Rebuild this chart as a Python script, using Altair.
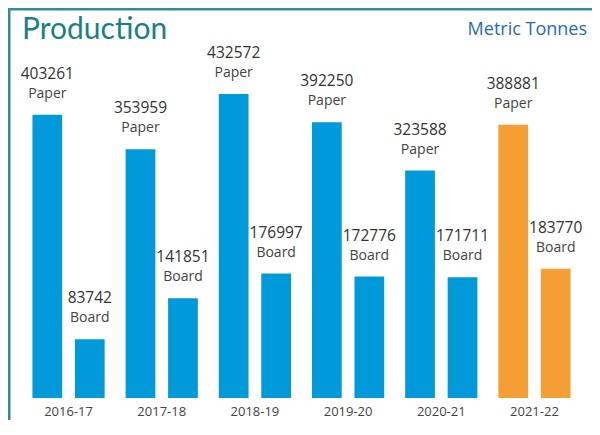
import altair as alt
import pandas as pd

years = ["2016-17", "2017-18", "2018-19", "2019-20", "2020-21", "2021-22"]
paper = [403261, 353959, 432572, 392250, 323588, 388881]
board = [83742, 141851, 176997, 172776, 171711, 183770]
types = ["Paper", "Board"]
highlight_year = "2021-22"

rows = []
for yr, p, b in zip(years, paper, board):
    grp = "Latest" if yr == highlight_year else "Earlier"
    rows.append({"year": yr, "type": "Paper", "value": p, "group": grp})
    rows.append({"year": yr, "type": "Board", "value": b, "group": grp})
df = pd.DataFrame(rows)

FONT = "Open Sans"

x = alt.X("year:N", sort=years,
          scale=alt.Scale(paddingInner=0.225, paddingOuter=0.23),
          axis=alt.Axis(title=None, labelAngle=0, domain=False, ticks=False,
                        labelFontSize=13, labelColor="#444444", labelPadding=7,
                        labelFont=FONT))
xo = alt.XOffset("type:N", sort=types,
                 scale=alt.Scale(paddingInner=0.3, paddingOuter=0))
y = alt.Y("value:Q", scale=alt.Scale(domain=[0, 555000], nice=False), axis=None)
color = alt.Color("group:N",
                  scale=alt.Scale(domain=["Earlier", "Latest"],
                                  range=["#009ADA", "#F59E33"]),
                  legend=None)

base = alt.Chart(df)
bars = base.mark_bar().encode(x=x, xOffset=xo, y=y, color=color)
nums = base.mark_text(dy=-36, fontSize=15.5, color="#333333", font=FONT,
                      baseline="alphabetic").encode(
    x=x, xOffset=xo, y=y, text=alt.Text("value:Q", format="d"))
names = base.mark_text(dy=-17, fontSize=14, color="#444444", font=FONT,
                       baseline="alphabetic").encode(
    x=x, xOffset=xo, y=y, text="type:N")

title = alt.Chart(pd.DataFrame({"t": ["Production"]})).mark_text(
    align="left", baseline="middle", fontSize=30, color="#1A7F88", font="Lato"
).encode(x=alt.value(11), y=alt.value(22), text="t:N")

unit = alt.Chart(pd.DataFrame({"t": ["Metric Tonnes"]})).mark_text(
    align="right", baseline="middle", fontSize=18, color="#1F6DB4", font=FONT
).encode(x=alt.value(576), y=alt.value(22), text="t:N")

frame = pd.DataFrame({"a": [0]})
top_border = alt.Chart(frame).mark_rule(color="#3A8B91", strokeWidth=3).encode(
    x=alt.value(-5), x2=alt.value(600), y=alt.value(1))
left_border = alt.Chart(frame).mark_rule(color="#3A8B91", strokeWidth=3).encode(
    x=alt.value(-2), y=alt.value(0), y2=alt.value(440))

chart = alt.layer(bars, nums, names, title, unit, top_border, left_border).properties(
    width=581, height=390, autosize="none",
    padding={"left": 3, "top": 0, "right": 0, "bottom": 22},
    background="white"
).configure_view(stroke="transparent", strokeWidth=0)

chart.save("out.html", embed_options={"renderer": "svg", "actions": False})
